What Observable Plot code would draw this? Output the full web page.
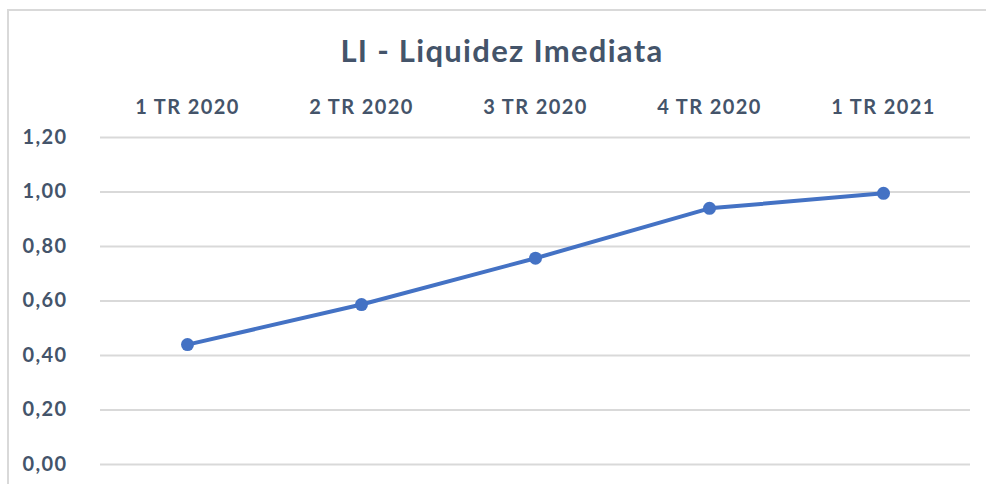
<!DOCTYPE html>
<html>
<head>
<meta charset="utf-8">
<script src="https://cdn.jsdelivr.net/npm/d3@7"></script>
<script src="https://cdn.jsdelivr.net/npm/@observablehq/plot@0.6"></script>
<style>
  html, body { margin: 0; padding: 0; background: #fff; }
  body { width: 986px; height: 484px; position: relative; overflow: hidden; font-family: Lato, sans-serif; }
  #frame { position: absolute; left: 7px; top: 9px; width: 1100px; height: 600px; border: 2px solid #d9d9d9; box-sizing: border-box; }
  #title { position: absolute; left: 0; top: 31px; width: 1004px; text-align: center; font: bold 31px Lato, sans-serif; letter-spacing: 1.3px; color: #44546a; }
  #chart { position: absolute; left: 0; top: 0; }
  #chart svg text { letter-spacing: 1.4px; }
</style>
</head>
<body>
<div id="frame"></div>
<div id="title">LI - Liquidez Imediata</div>
<div id="chart"></div>
<script>
const categories = ["1 TR 2020", "2 TR 2020", "3 TR 2020", "4 TR 2020", "1 TR 2021"];
const values = [0.44, 0.587, 0.757, 0.94, 0.995];
const yTicks = [0, 0.2, 0.4, 0.6, 0.8, 1.0, 1.2];

const data = categories.map((c, i) => ({cat: c, v: values[i]}));
const fmt = d => d.toFixed(2).replace(".", ",");

const plot = Plot.plot({
  width: 986,
  height: 484,
  marginLeft: 100,
  marginRight: 16,
  marginTop: 137,
  marginBottom: 20,
  style: {fontFamily: "Lato, sans-serif", fontSize: "20px", fontWeight: "bold", color: "#44546a", background: "transparent", overflow: "visible"},
  x: {type: "point", domain: categories, padding: 0.5},
  y: {domain: [0, 1.2]},
  marks: [
    Plot.gridY(yTicks, {stroke: "#d9d9d9", strokeOpacity: 1, strokeWidth: 2}),
    Plot.axisX({anchor: "top", tickSize: 0, tickPadding: 24, label: null, fill: "#44546a"}),
    Plot.axisY(yTicks, {anchor: "left", tickSize: 0, tickPadding: 0, textAnchor: "start", dx: -78, tickFormat: fmt, label: null, fill: "#44546a"}),
    Plot.line(data, {x: "cat", y: "v", stroke: "#4472c4", strokeWidth: 4}),
    Plot.dot(data, {x: "cat", y: "v", fill: "#4472c4", r: 6.5})
  ]
});
document.getElementById("chart").appendChild(plot);
</script>
</body>
</html>
